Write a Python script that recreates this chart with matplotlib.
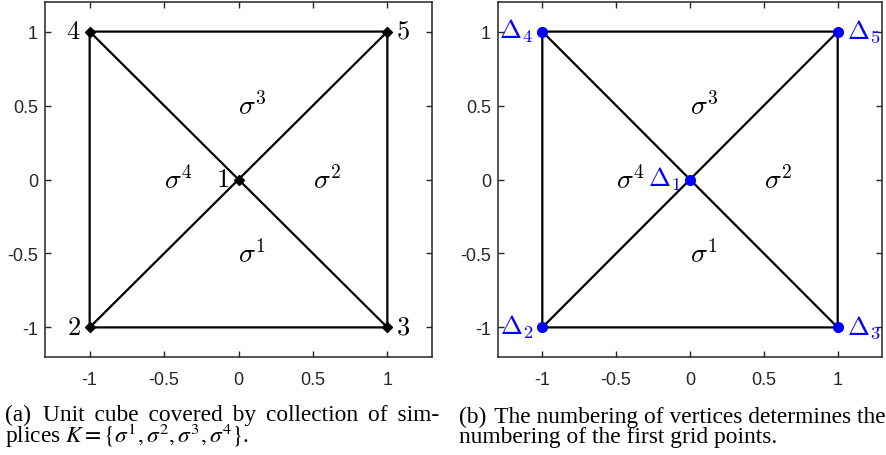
import matplotlib
matplotlib.use("Agg")
import matplotlib.pyplot as plt
import matplotlib.tri as mtri
import numpy as np

plt.rcParams["font.family"] = ["Liberation Sans", "DejaVu Sans"]
plt.rcParams["axes.unicode_minus"] = False
plt.rcParams["mathtext.fontset"] = "cm"

# vertices of the square, numbered 1..5
vertex_x = [0, -1, 1, -1, 1]
vertex_y = [0, -1, -1, 1, 1]
# simplices sigma^1..sigma^4 as vertex index triples (0-based)
simplices = [[0, 1, 2], [0, 2, 4], [0, 4, 3], [0, 3, 1]]
tick_values = [-1, -0.5, 0, 0.5, 1]
tick_labels = ["-1", "-0.5", "0", "0.5", "1"]

caption_a = ["(a) Unit cube covered by collection of sim-",
             r"plices $K = \{\sigma^1, \sigma^2, \sigma^3, \sigma^4\}$."]
caption_b = ["(b) The numbering of vertices determines the",
             "numbering of the first grid points."]

FRAME = "#262626"
W, H = 886, 456
HAIR = "\u200a"


def draw_panel(ax, marker, mcolor, msize, labels, lcolor):
    tri = mtri.Triangulation(vertex_x, vertex_y, simplices)
    ax.triplot(tri, color="black", lw=1.6, zorder=2)
    ax.plot(vertex_x, vertex_y, ls="none", marker=marker, color=mcolor,
            ms=msize, zorder=3)

    for x, y, lab in zip(vertex_x, vertex_y, labels):
        left = x <= 0
        ax.annotate(lab, (x, y), xytext=(-6.5 if left else 6.5, -4.6),
                    textcoords="offset points",
                    ha="right" if left else "left", va="baseline",
                    fontsize=19, color=lcolor, math_fontfamily="cm")

    vx = np.array(vertex_x, float)
    vy = np.array(vertex_y, float)
    for k, (a, b, c) in enumerate(simplices):
        # halfway between the centre vertex and the opposite edge
        px = vx[a] / 2 + (vx[b] + vx[c]) / 4
        py = vy[a] / 2 + (vy[b] + vy[c]) / 4
        ax.text(px, py, r"$\sigma^{%d}$" % (k + 1), ha="left", va="center",
                fontsize=20, math_fontfamily="cm")

    ax.set_xlim(-1.3, 1.3)
    ax.set_ylim(-1.2, 1.2)
    ax.set_xticks(tick_values, tick_labels)
    ax.set_yticks(tick_values, tick_labels)
    ax.tick_params(direction="in", top=True, right=True, length=4,
                   width=1.0, color=FRAME, labelcolor=FRAME, labelsize=13)
    ax.tick_params(axis="x", pad=10)
    ax.tick_params(axis="y", pad=5)
    for sp in ax.spines.values():
        sp.set_color(FRAME)
        sp.set_linewidth(1.1)


cap_kw = dict(fontsize=16.8, family=["Liberation Serif", "DejaVu Serif"],
              va="baseline", math_fontfamily="stix")


def justify(fig, renderer, line, width):
    # pad the word gaps with hair spaces until the line is `width` px wide
    words = line.split(" ")
    extra = [0] * (len(words) - 1)
    probe = fig.text(0, 0, line, **cap_kw)
    k = 0
    while True:
        s = words[0]
        for n, w in zip(extra, words[1:]):
            s += " " + HAIR * n + w
        probe.set_text(s)
        if probe.get_window_extent(renderer).width >= width or k > 200:
            break
        extra[k % len(extra)] += 1
        k += 1
    probe.remove()
    return s


fig = plt.figure(figsize=(W / 100, H / 100), dpi=100)
ax1 = fig.add_axes([45 / W, 1 - 358 / H, 387 / W, 355 / H])
ax2 = fig.add_axes([498 / W, 1 - 358 / H, 384 / W, 355 / H])

draw_panel(ax1, "D", "black", 5.5, [r"$%d$" % (i + 1) for i in range(5)], "black")
draw_panel(ax2, "o", "#0000ff", 7, [r"$\Delta_{%d}$" % (i + 1) for i in range(5)],
           "#0000ff")

renderer = fig.canvas.get_renderer()
# the math line of (a) sits taller, so it gets a tighter line spacing
for x0, x1, cap, ls in [(5, 438, caption_a, 0.80), (459, 884, caption_b, 0.93)]:
    first = justify(fig, renderer, cap[0], x1 - x0)
    # multi-line text is anchored at the baseline of its last line
    fig.text(x0 / W, 1 - 443 / H, first + "\n" + cap[1], linespacing=ls, **cap_kw)

fig.savefig("out.png", dpi=100)
